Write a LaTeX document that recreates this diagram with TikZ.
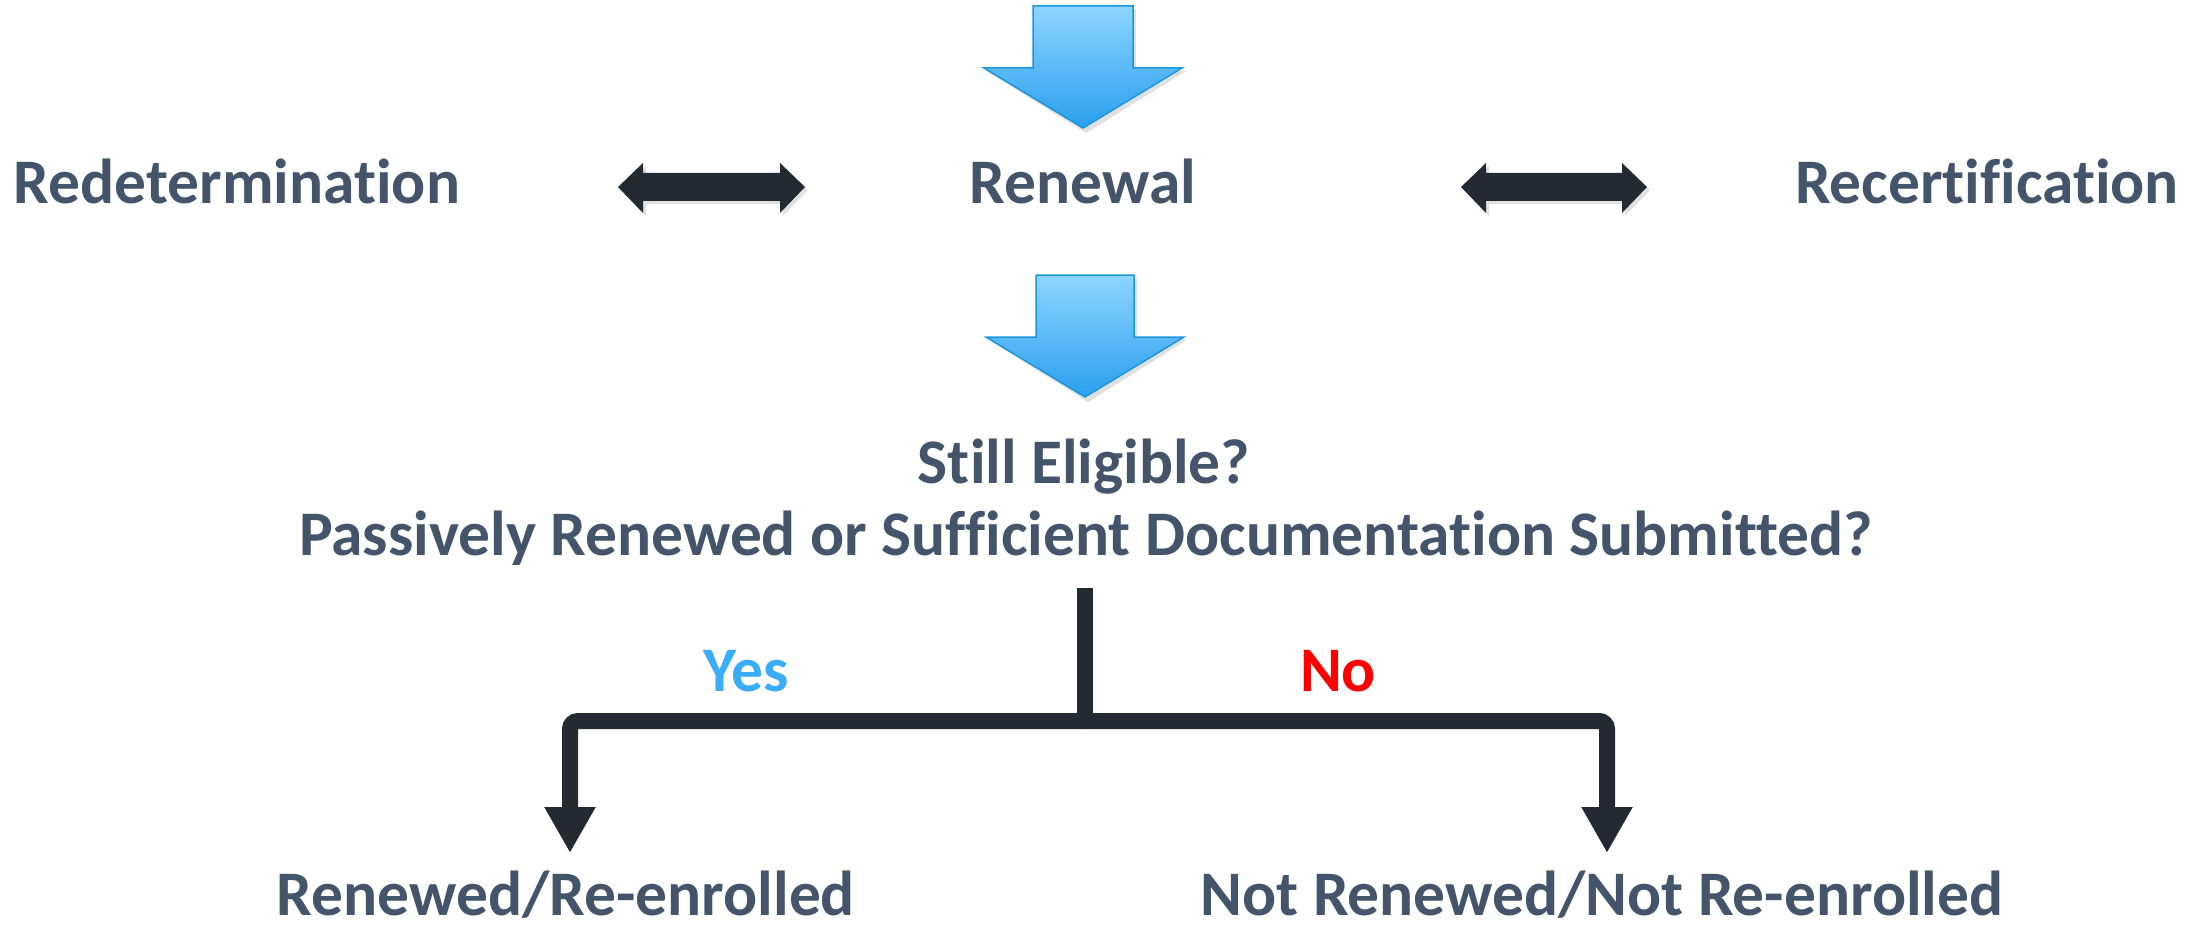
\documentclass[tikz,border=0pt]{standalone}
\usepackage{fontspec}
\setmainfont{Carlito}[RawFeature={-liga;-clig}]
\usetikzlibrary{arrows.meta}
\definecolor{txt}{HTML}{44546A}
\definecolor{dark}{HTML}{232A31}
\definecolor{bluetop}{HTML}{8DD5FF}
\definecolor{bluebot}{HTML}{2A9FEE}
\definecolor{blueline}{HTML}{1B97D9}
\definecolor{yescol}{HTML}{3BACF7}
\definecolor{nocol}{HTML}{FF0000}
\tikzset{
  lbl/.style={anchor=base, inner sep=0pt, text=txt, font=\fontsize{63.5}{70}\selectfont\bfseries},
  bluearrow/.style={draw=blueline, line width=1.5pt, top color=bluetop, bottom color=bluebot, line join=miter},
  darkshape/.style={fill=dark, draw=none},
  branch/.style={draw=dark, line width=16pt, rounded corners=8pt},
  branchtip/.style={branch, -{Triangle[width=48pt,length=46pt]}},
  shadowc/.style={fill=black, opacity=0.12}
}
\begin{document}
\begin{tikzpicture}[x=1pt,y=-1pt]
\useasboundingbox (0,0) rectangle (2203,928);
% labels
\node[lbl] (redet) at (237,204) {Redetermination};
\node[lbl] (renew) at (1083,204) {Renewal};
\node[lbl] (recert) at (1987,204) {Recertification};
\node[lbl] (still) at (1084,483) {Still Eligible?};
\node[lbl] (pass) at (1086,555) {Passively Renewed or Sufficient Documentation Submitted?};
\node[lbl, text=yescol] (yes) at (746,691) {Yes};
\node[lbl, text=nocol] (no) at (1338,691) {No};
\node[lbl] (rr) at (566,915) {Renewed/Re-enrolled};
\node[lbl] (nrr) at (1602,915) {Not Renewed/Not Re-enrolled};
% blue down arrows (with soft shadow)
\fill[shadowc] (1036,9) -- (1136,9) -- (1136,71) -- (1186,71) -- (1086,133) -- (986,71) -- (1036,71) -- cycle;
\path[bluearrow] (1033,6) -- (1133,6) -- (1133,68) -- (1182,68) -- (1083,128) -- (984,68) -- (1033,68) -- cycle;
\fill[shadowc] (1039,278) -- (1137,278) -- (1137,340) -- (1187,340) -- (1088,402) -- (989,340) -- (1039,340) -- cycle;
\path[bluearrow] (1036,275) -- (1134,275) -- (1134,337) -- (1184,337) -- (1085,397) -- (986,337) -- (1036,337) -- cycle;
% double arrows
\fill[shadowc] (621,190) -- (646,166) -- (646,176) -- (783,176) -- (783,166) -- (808,190) -- (783,216) -- (783,204) -- (646,204) -- (646,216) -- cycle;
\path[darkshape] (618,187) -- (643,163) -- (643,173) -- (780,173) -- (780,163) -- (805,187) -- (780,213) -- (780,201) -- (643,201) -- (643,213) -- cycle;
\fill[shadowc] (1464,190) -- (1489,166) -- (1489,176) -- (1625,176) -- (1625,166) -- (1650,190) -- (1625,216) -- (1625,204) -- (1489,204) -- (1489,216) -- cycle;
\path[darkshape] (1461,187) -- (1486,163) -- (1486,173) -- (1622,173) -- (1622,163) -- (1647,187) -- (1622,213) -- (1622,201) -- (1486,201) -- (1486,213) -- cycle;
% decision branch
\coordinate (stemtop) at (1085,588);
\coordinate (split) at (1085,721);
\coordinate (yesend) at (570,853);
\coordinate (noend) at (1607,853);
\draw[branch] (stemtop) -- ([yshift=8pt]split);
\draw[branchtip] (split) -| (yesend);
\draw[branchtip] (split) -| (noend);
\end{tikzpicture}
\end{document}
